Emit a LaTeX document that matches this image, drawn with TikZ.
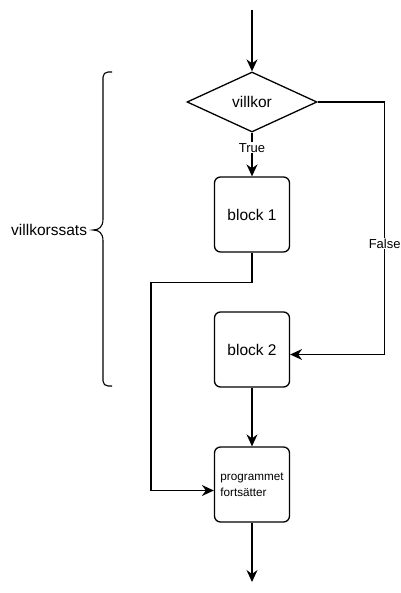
\documentclass[tikz,border=0pt]{standalone}
\usepackage{fontspec}
\setmainfont{Liberation Sans}
\usetikzlibrary{arrows.meta,shapes.geometric,positioning}

\begin{document}
\begin{tikzpicture}[x=1pt,y=-1pt,->,>={Stealth[length=12pt,width=11pt,inset=4pt]},line width=1.3pt,
  font=\fontsize{15.5}{18}\selectfont]
  \tikzstyle{block}=[draw,rounded corners=6pt,minimum width=75pt,minimum height=75pt,inner sep=0pt]
  \tikzstyle{decision}=[draw,diamond,aspect=2.1667,minimum width=130pt,minimum height=60pt,inner sep=0pt]
  \tikzstyle{cond}=[fill=white,inner sep=1pt,font=\fontsize{13}{15}\selectfont]

  \useasboundingbox (0,0) rectangle (400,593);

  \coordinate (start) at (252,10);
  \coordinate (end) at (252,582);
  \node[decision] (villkor) at (252,102) {villkor};
  \node[block] (b1) at (252,214.5) {block 1};
  \node[block] (b2) at (252,349.5) {block 2};
  \node[block,align=left,font=\fontsize{11.7}{16}\selectfont] (prog) at (252,484.5) {programmet\\fortsätter};
  \node[anchor=east] (sats) at (91,230) {villkorssats};

  \draw (start) -- (villkor);
  \draw (villkor) -- node[cond,pos=0.35] {True} (b1);
  \draw (villkor.east) -- ++(67,0) |- node[cond,pos=0.28] {False} ([yshift=-5pt]b2.east);
  \draw (b1.south) -- ++(0,30) -- ++(-101,0) |- ([yshift=-6pt]prog.west);
  \draw (b2) -- (prog);
  \draw (prog) -- (end);

  % the brace round the whole if statement
  \draw[-,line width=1.1pt,rounded corners=5pt] (112,72) -- (103,72) -- (103,219);
  \draw[-,line width=1.1pt] (103,219) .. controls (103,227) and (99,230) .. (93,230)
    .. controls (99,230) and (103,233) .. (103,241);
  \draw[-,line width=1.1pt,rounded corners=5pt] (103,241) -- (103,386) -- (112,386);
\end{tikzpicture}
\end{document}
